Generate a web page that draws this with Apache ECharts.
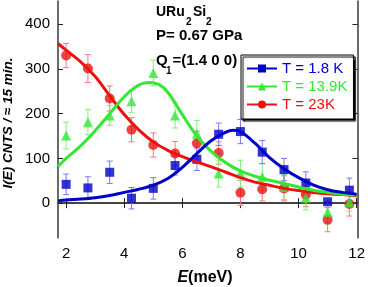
<!DOCTYPE html>
<html>
<head>
<meta charset="utf-8">
<script src="https://cdn.jsdelivr.net/npm/echarts@6/dist/echarts.min.js"></script>
<style>
html,body{margin:0;padding:0;background:#fff;}
#chart{width:368px;height:287px;}
</style>
</head>
<body>
<div id="chart"></div>
<script>
// ---- data ----
const energies = [2, 2.75, 3.5, 4.25, 5, 5.75, 6.5, 7.25, 8, 8.75, 9.5, 10.25, 11, 11.75];
const blueVals  = [42, 34, 69, 11, 33, 84, 98, 154, 160, 114, 75, 45, 3, 29];
const blueErr   = [23, 25, 25, 24, 24, 21, 25, 25, 27, 26, 25, 25, 0, 27];
const greenVals = [151, 181, 196, 228, 291, 196, 155, 66, 66, 59, 36, 12, -20, 2];
const greenErr  = [30, 28, 22, 25, 29, 28, 30, 30, 30, 30, 28, 27, 27, 20];
const redVals   = [330, 301, 234, 164, 130, 111, 134, 112, 23, 31, 33, 19, -37, -2];
const redErr    = [27, 31, 28, 27, 27, 27, 27, 25, 28, 26, 28, 27, 27, 27];

const blueFitE  = [1.72, 2, 2.5, 3, 3.5, 4, 4.5, 5, 5.5, 6, 6.5, 7, 7.5, 7.75, 8, 8.5, 9, 9.5, 10, 10.5, 11, 11.5, 12];
const blueFit   = [5, 7, 9, 12, 17, 24, 31, 40, 55, 80, 111, 140, 159, 163, 160, 134, 102, 77, 57, 41, 30, 24, 20];
const greenFitE = [1.72, 2, 2.5, 3, 3.5, 4, 4.5, 4.85, 5.2, 5.5, 6, 6.5, 7, 7.5, 8, 8.5, 9, 9.5, 10, 10.5, 11, 11.5, 12];
const greenFit  = [82, 100, 128, 162, 200, 238, 264, 270, 265, 248, 198, 150, 115, 90, 72, 60, 51, 44, 36, 29, 24, 20, 18];
const redFitE   = [1.72, 2, 2.5, 3, 3.5, 4, 4.5, 5, 5.5, 6, 6.5, 7, 7.5, 8, 8.5, 9, 9.5, 10, 10.5, 11, 11.5, 12];
const redFit    = [357, 342, 316, 283, 240, 198, 164, 137, 118, 104, 92, 81, 69, 57, 47, 40, 33, 28, 24, 21, 19, 16];

const xTicks = [2, 4, 6, 8, 10, 12];
const yTicks = [0, 100, 200, 300, 400];
const seriesNames = ['T = 1.8 K', 'T = 13.9K', 'T = 23K'];

const BLUE = '#0000c8', GREEN = '#33e833', RED = '#ee1111';
const FONT = 'Liberation Sans, Arial, Helvetica, DejaVu Sans, sans-serif';

function zip(a, b) { return a.map((v, i) => [v, b[i]]); }
function zip3(a, b, c) { return a.map((v, i) => [v, b[i], c[i]]); }

function errSeries(vals, errs, color) {
  return {
    type: 'custom',
    silent: true,
    z: 1,
    data: zip3(energies, vals, errs),
    renderItem: function (params, api) {
      const x = api.value(0), y = api.value(1), e = api.value(2);
      const top = api.coord([x, y + e]);
      const bot = api.coord([x, y - e]);
      const st = { stroke: color, lineWidth: 1 };
      return {
        type: 'group',
        children: [
          { type: 'line', shape: { x1: top[0], y1: top[1], x2: bot[0], y2: bot[1] }, style: st },
          { type: 'line', shape: { x1: top[0] - 3, y1: top[1], x2: top[0] + 3, y2: top[1] }, style: st },
          { type: 'line', shape: { x1: bot[0] - 3, y1: bot[1], x2: bot[0] + 3, y2: bot[1] }, style: st }
        ]
      };
    }
  };
}

const axisLineStyle = { color: '#3a3a3a', width: 1.5 };
const chart = echarts.init(document.getElementById('chart'), null, { renderer: 'canvas' });
const xMin = 1.72, xMax = 12.03, yMin = -78, yMax = 452;

function fitLine(name, sym, color, xs, ys) {
  return { name: name, type: 'line', smooth: 0.35, symbol: sym, showSymbol: false, z: 4,
           lineStyle: { color: color, width: 3 }, itemStyle: { color: color }, data: zip(xs, ys) };
}

const option = {
  animation: false,
  grid: { left: 58, right: 10, top: 1, bottom: 49, containLabel: false },
  xAxis: [
    {
      type: 'value', min: xMin, max: xMax, position: 'bottom',
      splitLine: { show: false },
      axisLine: { show: true, lineStyle: axisLineStyle },
      axisTick: { show: true, inside: true, length: 5, customValues: xTicks, lineStyle: { color: '#222', width: 1 } },
      axisLabel: { customValues: xTicks, margin: 8, fontSize: 15, color: '#000', fontFamily: FONT }
    },
    {
      type: 'value', min: xMin, max: xMax, position: 'top',
      splitLine: { show: false },
      axisLine: { show: true, lineStyle: axisLineStyle },
      axisTick: { show: true, inside: true, length: 5, customValues: xTicks, lineStyle: { color: '#222', width: 1 } },
      axisLabel: { show: false }
    }
  ],
  yAxis: [
    {
      type: 'value', min: yMin, max: yMax, position: 'left',
      splitLine: { show: false },
      axisLine: { show: true, lineStyle: axisLineStyle },
      axisTick: { show: true, inside: true, length: 5, customValues: yTicks, lineStyle: { color: '#222', width: 1 } },
      axisLabel: { customValues: yTicks, margin: 8, fontSize: 15, color: '#000', fontFamily: FONT }
    },
    {
      type: 'value', min: yMin, max: yMax, position: 'right',
      splitLine: { show: false },
      axisLine: { show: true, lineStyle: axisLineStyle },
      axisTick: { show: true, inside: true, length: 5, customValues: yTicks, lineStyle: { color: '#222', width: 1 } },
      axisLabel: { show: false }
    }
  ],
  legend: {
    orient: 'vertical',
    left: 241, top: 55,
    padding: [6, 6, 7, 5],
    itemWidth: 30, itemHeight: 10, itemGap: 3,
    backgroundColor: '#fff',
    borderColor: '#000', borderWidth: 1,
    shadowColor: '#000', shadowOffsetX: 2, shadowOffsetY: 2, shadowBlur: 1,
    textStyle: { fontSize: 15, fontFamily: FONT },
    data: [
      { name: seriesNames[0], textStyle: { color: BLUE } },
      { name: seriesNames[1], textStyle: { color: GREEN } },
      { name: seriesNames[2], textStyle: { color: RED } }
    ]
  },
  series: [
    errSeries(redVals, redErr, '#f27a7a'),
    errSeries(greenVals, greenErr, '#80ee80'),
    errSeries(blueVals, blueErr, '#7a7af0'),
    { name: 'red points', type: 'scatter', symbol: 'circle', symbolSize: 10, z: 3,
      itemStyle: { color: RED }, data: zip(energies, redVals) },
    { name: 'green points', type: 'scatter', symbol: 'triangle', symbolSize: 10, z: 3,
      itemStyle: { color: GREEN }, data: zip(energies, greenVals) },
    { name: 'blue points', type: 'scatter', symbol: 'rect', symbolSize: 9, z: 3,
      itemStyle: { color: BLUE }, data: zip(energies, blueVals) },
    fitLine(seriesNames[2], 'circle', RED, redFitE, redFit),
    fitLine(seriesNames[1], 'triangle', GREEN, greenFitE, greenFit),
    fitLine(seriesNames[0], 'rect', BLUE, blueFitE, blueFit)
  ],
  graphic: [
    { type: 'text', x: 8, y: 123, rotation: Math.PI / 2,
      style: { text: 'I(E) CNTS / ≈ 15 min.', fontSize: 13.5, fontWeight: 'bold', fontStyle: 'italic',
               fontFamily: FONT, fill: '#000', align: 'center', verticalAlign: 'middle' } },
    { type: 'text', x: 205, y: 278,
      style: { text: '{e|E}{n|(meV)}', align: 'center', verticalAlign: 'middle',
               rich: { e: { fontSize: 16, fontWeight: 'bold', fontStyle: 'italic', fontFamily: FONT, fill: '#000' },
                       n: { fontSize: 16, fontWeight: 'bold', fontFamily: FONT, fill: '#000' } } } },
    { type: 'text', x: 156, y: 12, style: { text: 'URu', fontSize: 14, fontWeight: 'bold', fontFamily: FONT, fill: '#000', align: 'left', verticalAlign: 'middle' } },
    { type: 'text', x: 186, y: 22, style: { text: '2', fontSize: 10, fontWeight: 'bold', fontFamily: FONT, fill: '#000', align: 'left', verticalAlign: 'middle' } },
    { type: 'text', x: 193, y: 12, style: { text: 'Si', fontSize: 14, fontWeight: 'bold', fontFamily: FONT, fill: '#000', align: 'left', verticalAlign: 'middle' } },
    { type: 'text', x: 206, y: 22, style: { text: '2', fontSize: 10, fontWeight: 'bold', fontFamily: FONT, fill: '#000', align: 'left', verticalAlign: 'middle' } },
    { type: 'text', x: 156, y: 36, style: { text: 'P= 0.67 GPa', fontSize: 15, fontWeight: 'bold', fontFamily: FONT, fill: '#000', align: 'left', verticalAlign: 'middle' } },
    { type: 'text', x: 156, y: 61, style: { text: 'Q', fontSize: 15, fontWeight: 'bold', fontFamily: FONT, fill: '#000', align: 'left', verticalAlign: 'middle' } },
    { type: 'text', x: 166, y: 71, style: { text: '1', fontSize: 10, fontWeight: 'bold', fontFamily: FONT, fill: '#000', align: 'left', verticalAlign: 'middle' } },
    { type: 'text', x: 172.5, y: 61, style: { text: '=(1.4 0 0)', fontSize: 15, fontWeight: 'bold', fontFamily: FONT, fill: '#000', align: 'left', verticalAlign: 'middle' } }
  ]
};
chart.setOption(option);
</script>
</body>
</html>
